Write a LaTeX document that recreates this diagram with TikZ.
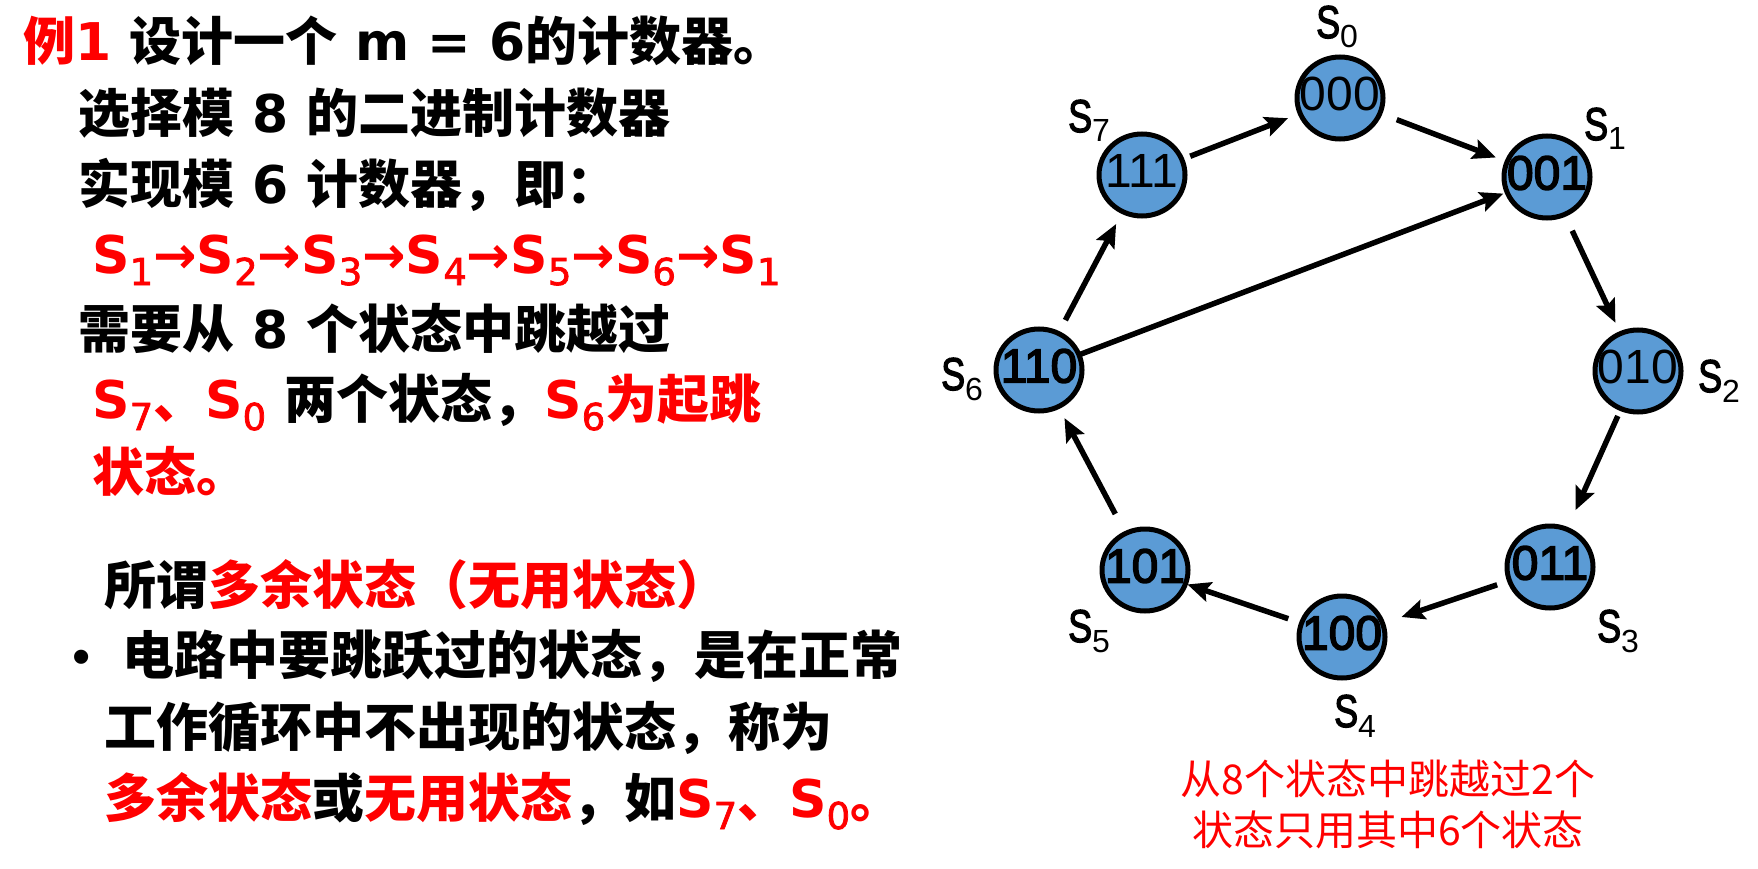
\documentclass[tikz,border=0pt]{standalone}
\usepackage{fontspec}
\setmainfont{Liberation Sans}
\newfontfamily\zh{Noto Sans CJK SC}
\newfontfamily\ar{Liberation Sans}
\newfontfamily\arsb{Liberation Sans}[FakeBold=3]
\newfontfamily\lat{DejaVu Sans}
\newfontfamily\latsb{DejaVu Sans}[FakeBold=2]
\usetikzlibrary{arrows.meta,shapes.geometric}
\definecolor{nodeblue}{HTML}{5B9BD5}
\definecolor{myred}{HTML}{FF0000}
\newcommand\Sb[1]{{\lat S}\raisebox{-12pt}{\latsb\mdseries\fontsize{37}{37}\selectfont #1}}
\newcommand\rar{{\lat →}}
\newcommand\Sl[1]{\scalebox{0.78}[1]{\arsb S}\raisebox{-10pt}{\fontsize{32}{32}\selectfont #1}}
\begin{document}
\begin{tikzpicture}[x=1pt,y=-1pt,
  txt/.style={anchor=base west,inner sep=0pt,font=\fontsize{52}{60}\selectfont\lat\bfseries},
  stnode/.style={ellipse,draw=black,line width=5pt,fill=nodeblue,minimum width=86pt,minimum height=82pt,inner sep=0pt,outer sep=0pt},
  dig/.style={inner sep=0pt,yshift=4pt,font=\fontsize{48}{48}\selectfont\ar},
  digb/.style={dig,font=\fontsize{48}{48}\selectfont\arsb},
  lbl/.style={anchor=base west,inner sep=0pt,font=\fontsize{46}{46}\selectfont\ar},
  arr/.style={line width=5.5pt,-{Stealth[length=23pt,width=20pt,inset=4pt]}},
  captxt/.style={anchor=base,inner sep=0pt,text=myred,font=\fontsize{41}{41}\selectfont\zh}]
\useasboundingbox[fill=white] (0,0) rectangle (1758,869);

% left text
\node[txt] (t1) at (23,61) {\textcolor{myred}{{\zh 例}1} {\zh 设计一个} m = 6{\zh 的计数器。}};
\node[txt] (t2) at (78,133) {{\zh 选择模} 8 {\zh 的二进制计数器}};
\node[txt] (t3) at (78,204) {{\zh 实现模} 6 {\zh 计数器，即：}};
\node[txt,text=myred] (t4) at (92,273) {\Sb1\rar\Sb2\rar\Sb3\rar\Sb4\rar\Sb5\rar\Sb6\rar\Sb1};
\node[txt] (t5) at (78,348) {{\zh 需要从} 8 {\zh 个状态中跳越过}};
\node[txt] (t6) at (92,418) {\textcolor{myred}{\Sb7{\zh 、}\Sb0} {\zh 两个状态，}\textcolor{myred}{\Sb6{\zh 为起跳}}};
\node[txt,text=myred] (t7) at (92,491) {\zh 状态。};
\node[txt] (t8) at (104,604) {{\zh 所谓}\textcolor{myred}{\zh 多余状态（无用状态）}};
\node[txt,font=\fontsize{52}{60}\selectfont\ar] (b9) at (72,674) {•};
\node[txt] (t9) at (122,674) {\zh 电路中要跳跃过的状态，是在正常};
\node[txt] (t10) at (104,746) {\zh 工作循环中不出现的状态，称为};
\node[txt] (t11) at (104,817) {\textcolor{myred}{\zh 多余状态}{\zh 或}\textcolor{myred}{\zh 无用状态}{\zh ，如}\textcolor{myred}{\Sb7{\zh 、}\Sb0{\zh 。}}};

% states
\node[stnode,label={[dig]center:000}] (s0) at (1340,98) {};
\node[stnode,label={[digb]center:001}] (s1) at (1547,177) {};
\node[stnode,label={[dig]center:010}] (s2) at (1638,371) {};
\node[stnode,label={[digb]center:011}] (s3) at (1550,567) {};
\node[stnode,label={[digb]center:100}] (s4) at (1342,637) {};
\node[stnode,label={[digb]center:101}] (s5) at (1145,570) {};
\node[stnode,label={[digb]center:110}] (s6) at (1039,370) {};
\node[stnode,label={[dig]center:111}] (s7) at (1142,175) {};

% labels
\node[lbl] (l0) at (1316,38) {\Sl{0}};
\node[lbl] (l7) at (1068,132) {\Sl{7}};
\node[lbl] (l1) at (1584,140) {\Sl{1}};
\node[lbl] (l2) at (1698,392) {\Sl{2}};
\node[lbl] (l6) at (941,390) {\Sl{6}};
\node[lbl] (l5) at (1068,642) {\Sl{5}};
\node[lbl] (l3) at (1597,642) {\Sl{3}};
\node[lbl] (l4) at (1334,727) {\Sl{4}};

% arrows
\draw[arr,shorten <=9pt,shorten >=13pt] (s7) -- (s0);
\draw[arr,shorten <=18pt,shorten >=12pt] (s0) -- (s1);
\draw[arr,shorten <=18pt,shorten >=12pt] (s1) -- (s2);
\draw[arr,shorten <=8pt,shorten >=21pt] (s2) -- (s3);
\draw[arr,shorten <=13pt,shorten >=20pt] (s3) -- (s4);
\draw[arr,shorten <=14pt,shorten >=2pt] (s4) -- (s5);
\draw[arr,shorten <=22pt,shorten >=13pt] (s5) -- (s6);
\draw[arr,shorten <=15pt,shorten >=14pt] (s6) -- (s7);
\draw[arr,shorten <=0pt,shorten >=4pt] (s6) -- (s1);

% caption
\node[captxt] (c1) at (1388,794) {从8个状态中跳越过2个};
\node[captxt] (c2) at (1388,845) {状态只用其中6个状态};
\end{tikzpicture}
\end{document}
